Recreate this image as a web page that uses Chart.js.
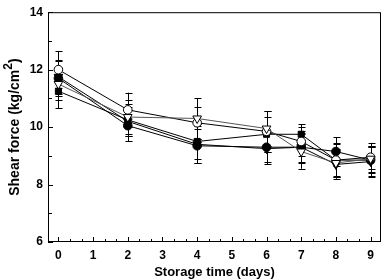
<!DOCTYPE html>
<html>
<head>
<meta charset="utf-8">
<script src="https://cdn.jsdelivr.net/npm/chart.js@4"></script>
<style>
  body { margin: 0; background: #fff; }
  #chart { display: block; }
</style>
</head>
<body>
<canvas id="chart" width="387" height="280"></canvas>
<script>
// storage days
const days = [0, 2, 4, 6, 7, 8, 9];

// shear force means (kg/cm2) per treatment
const openCircle   = [12.0, 10.6, 10.15, 9.85, 9.5, 8.85, 8.95];
const filledCircle = [11.7, 10.05, 9.35, 9.3, 9.3, 9.15, 8.85];
const openTri      = [11.5, 10.35, 10.3, 9.95, 9.15, 8.75, 8.9];
const filledTri    = [11.75, 10.2, 9.4, 9.25, 9.3, 8.7, 8.8];
const filledSquare = [11.25, 10.25, 9.5, 9.75, 9.75, 8.85, 8.85];

// standard deviations
const errOpenCircle   = [0.65, 0.6, 0.55, 0.7, 0.5, 0.55, 0.4];
const errFilledCircle = [0.6, 0.55, 0.6, 0.5, 0.55, 0.5, 0.45];
const errOpenTri      = [0.55, 0.6, 0.7, 0.6, 0.6, 0.5, 0.45];
const errFilledTri    = [0.6, 0.5, 0.65, 0.55, 0.5, 0.5, 0.5];
const errFilledSquare = [0.6, 0.55, 0.6, 0.6, 0.35, 0.6, 0.6];

function pts(vals){ return vals.map((v, i) => ({x: days[i], y: v})); }

// first entry is drawn on top
const series = [
  {data: openTri, err: errOpenTri, style: "triangle", fill: "#fff", rot: 180, line: "#555"},
  {data: openCircle, err: errOpenCircle, style: "circle", fill: "#fff", rot: 0, line: "#000"},
  {data: filledSquare, err: errFilledSquare, style: "rect", fill: "#000", rot: 0, line: "#000"},
  {data: filledCircle, err: errFilledCircle, style: "circle", fill: "#000", rot: 0, line: "#000"},
  {data: filledTri, err: errFilledTri, style: "triangle", fill: "#000", rot: 180, line: "#000"}
];

const FONT = "Liberation Sans, Arial, sans-serif";

// error bars drawn behind the markers
const errorBars = {
  id: "errorBars",
  beforeDatasetsDraw(chart){
    const ctx = chart.ctx, xs = chart.scales.x, ys = chart.scales.y;
    ctx.save();
    ctx.strokeStyle = "#000";
    ctx.lineWidth = 1;
    series.forEach(s => {
      s.data.forEach((v, i) => {
        const x = Math.round(xs.getPixelForValue(days[i])) + 0.5;
        const top = ys.getPixelForValue(v + s.err[i]);
        const bot = ys.getPixelForValue(v - s.err[i]);
        ctx.beginPath();
        ctx.moveTo(x, top); ctx.lineTo(x, bot);
        ctx.moveTo(x - 3, Math.round(top) + 0.5); ctx.lineTo(x + 4, Math.round(top) + 0.5);
        ctx.moveTo(x - 3, Math.round(bot) + 0.5); ctx.lineTo(x + 4, Math.round(bot) + 0.5);
        ctx.stroke();
      });
    });
    ctx.restore();
  }
};

// box frame, inward ticks and the y title with a real superscript
const frame = {
  id: "frame",
  afterDraw(chart){
    const ctx = chart.ctx, a = chart.chartArea, xs = chart.scales.x, ys = chart.scales.y;
    ctx.save();
    ctx.strokeStyle = "#000";
    ctx.lineWidth = 1;
    ctx.strokeRect(a.left + 0.5, a.top + 0.5, a.right - a.left - 1, a.bottom - a.top - 1);
    ctx.beginPath();
    for (let v = 6; v <= 14; v++) {
      const y = Math.round(ys.getPixelForValue(v)) + 0.5;
      const len = v % 2 === 0 ? 5 : 4;
      ctx.moveTo(a.left, y); ctx.lineTo(a.left + len, y);
    }
    for (let k = 0; k <= 27; k++) {
      const x = Math.round(xs.getPixelForValue(k / 3)) + 0.5;
      const len = k % 3 === 0 ? 5 : 3;
      ctx.moveTo(x, a.bottom); ctx.lineTo(x, a.bottom - len);
    }
    ctx.stroke();

    // y title
    const main = "Shear force (kg/cm", sup = "2", end = ")";
    ctx.fillStyle = "#000";
    ctx.textBaseline = "alphabetic";
    ctx.font = "bold 14px " + FONT;
    const w1 = ctx.measureText(main).width, w3 = ctx.measureText(end).width;
    ctx.font = "bold 12px " + FONT;
    const w2 = ctx.measureText(sup).width;
    const total = w1 + w2 + w3;
    ctx.translate(19, (a.top + a.bottom) / 2);
    ctx.rotate(-Math.PI / 2);
    let x0 = -total / 2;
    ctx.font = "bold 14px " + FONT;
    ctx.fillText(main, x0, 0);
    ctx.font = "bold 12px " + FONT;
    ctx.fillText(sup, x0 + w1, -7);
    ctx.font = "bold 14px " + FONT;
    ctx.fillText(end, x0 + w1 + w2, 0);
    ctx.restore();
  }
};

new Chart("chart", {
  type: "line",
  data: {
    datasets: series.map(s => ({
      data: pts(s.data),
      borderColor: s.line,
      borderWidth: 1,
      pointStyle: s.style,
      pointRotation: s.rot,
      pointRadius: s.style === "triangle" ? 5 : 4.3,
      pointBackgroundColor: s.fill,
      pointBorderColor: "#000",
      pointBorderWidth: 1,
      fill: false,
      tension: 0
    }))
  },
  options: {
    responsive: false,
    animation: false,
    events: [],
    layout: { padding: { top: 5, right: 2, left: 0, bottom: 0 } },
    plugins: { legend: { display: false }, tooltip: { enabled: false } },
    scales: {
      x: {
        type: "linear",
        min: -0.3,
        max: 9.3,
        afterFit(scale){ scale.height = 38; },
        afterBuildTicks(scale){ scale.ticks = days.concat([1, 3, 5]).sort((a, b) => a - b).map(v => ({value: v})); },
        grid: { display: false, drawTicks: false },
        border: { display: false },
        ticks: {
          padding: 6,
          color: "#000",
          font: { family: FONT, size: 12, weight: "bold" }
        },
        title: {
          display: true,
          text: "Storage time (days)",
          color: "#000",
          padding: { top: 0, bottom: 0 },
          font: { family: FONT, size: 13, weight: "bold" }
        }
      },
      y: {
        min: 6,
        max: 14,
        afterFit(scale){ scale.width = 48; },
        grid: { display: false, drawTicks: false },
        border: { display: false },
        ticks: {
          stepSize: 2,
          padding: 5,
          color: "#000",
          font: { family: FONT, size: 12, weight: "bold" }
        }
      }
    }
  },
  plugins: [errorBars, frame]
});
</script>
</body>
</html>
